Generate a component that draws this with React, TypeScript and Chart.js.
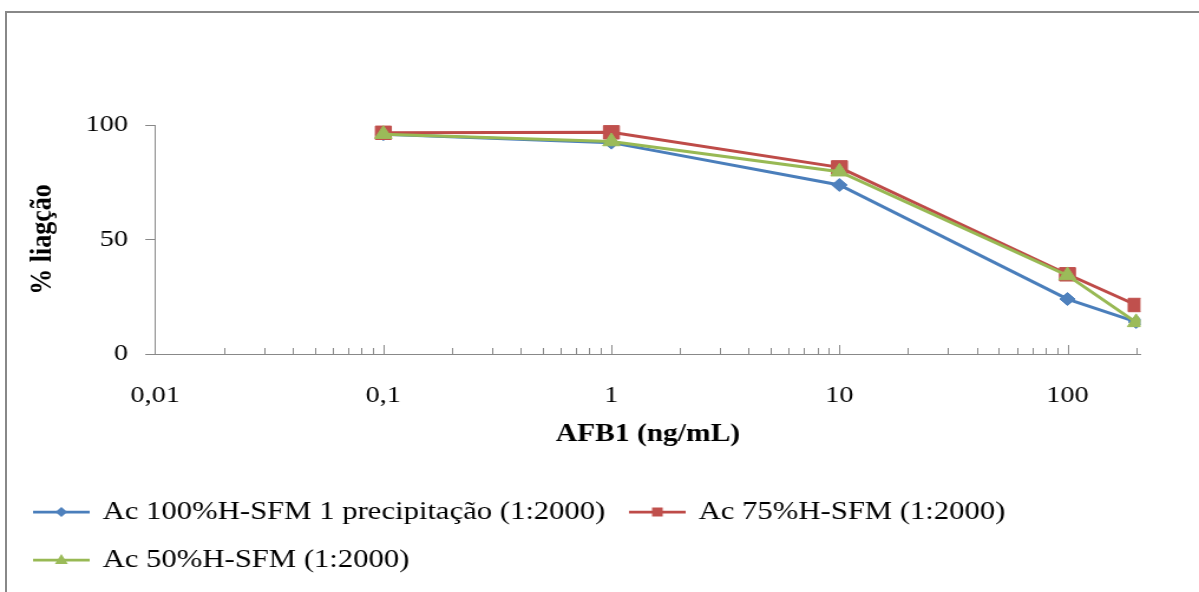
import React, { useEffect, useRef } from 'react';
import { Chart, registerables } from 'chart.js';

Chart.register(...registerables);

// ---- data ----
const concentrations = [0.1, 1, 10, 100, 200];
const seriesBlue = [96, 92.3, 73.8, 24, 14];
const seriesRed = [96.6, 96.8, 81.5, 34.8, 21.4];
const seriesGreen = [96, 92.8, 79.6, 34.3, 13.8];
const seriesLabels = [
  'Ac 100%H-SFM 1 precipitação (1:2000)',
  'Ac 75%H-SFM (1:2000)',
  'Ac 50%H-SFM (1:2000)',
];
const xTickValues = [0.01, 0.1, 1, 10, 100];
const xTickLabels = ['0,01', '0,1', '1', '10', '100'];
const xMin = 0.01;
const xMax = 209;
const yMin = 0;
const yMax = 100;
const yStep = 50;
const xTitle = 'AFB1 (ng/mL)';
const yTitle = '% liagção';

// ---- styling ----
const PAGE_W = 1199;
const PAGE_H = 592;
const CW = 1016;
const FONT = "'Liberation Serif', 'Times New Roman', serif";
const AXIS_COLOR = '#888888';

type Shape = 'diamond' | 'square' | 'triangle';
const seriesStyles: { line: string; marker: string; shape: Shape; pointStyle: string; radius: number; order: number }[] = [
  { line: '#4A7EBB', marker: '#4F81BD', shape: 'diamond', pointStyle: 'rectRot', radius: 6.5, order: 3 },
  { line: '#BE4B48', marker: '#C0504D', shape: 'square', pointStyle: 'rect', radius: 9.5, order: 2 },
  { line: '#98B954', marker: '#9BBB59', shape: 'triangle', pointStyle: 'triangle', radius: 8.5, order: 1 },
];

function makeLegendImage(lineColor: string, markerColor: string, shape: Shape): HTMLCanvasElement {
  const c = document.createElement('canvas');
  c.width = 48;
  c.height = 20;
  const ctx = c.getContext('2d')!;
  ctx.strokeStyle = lineColor;
  ctx.lineWidth = 2.75;
  ctx.beginPath();
  ctx.moveTo(0, 10);
  ctx.lineTo(48, 10);
  ctx.stroke();
  ctx.fillStyle = markerColor;
  ctx.beginPath();
  const cx = 24, cy = 10;
  if (shape === 'diamond') {
    ctx.moveTo(cx - 5, cy);
    ctx.lineTo(cx, cy - 5);
    ctx.lineTo(cx + 5, cy);
    ctx.lineTo(cx, cy + 5);
  } else if (shape === 'square') {
    ctx.rect(cx - 4.5, cy - 4.5, 9, 9);
  } else {
    ctx.moveTo(cx, cy - 6);
    ctx.lineTo(cx + 5.5, cy + 4);
    ctx.lineTo(cx - 5.5, cy + 4);
  }
  ctx.closePath();
  ctx.fill();
  return c;
}

const logTicksPlugin = {
  id: 'logTicks',
  afterDraw(chart: any) {
    const xs = chart.scales.x;
    const { ctx, chartArea } = chart;
    ctx.save();
    ctx.strokeStyle = AXIS_COLOR;
    ctx.lineWidth = 1;
    const minE = Math.round(Math.log10(xMin));
    const maxE = Math.floor(Math.log10(xMax));
    for (let e = minE; e <= maxE; e++) {
      for (let m = 1; m <= 9; m++) {
        const v = m * Math.pow(10, e);
        if (v <= xMin * 1.0001 || v > xMax) continue;
        const px = Math.round(xs.getPixelForValue(v)) + 0.5;
        const len = m === 1 ? 9 : 6;
        ctx.beginPath();
        ctx.moveTo(px, chartArea.bottom);
        ctx.lineTo(px, chartArea.bottom - len);
        ctx.stroke();
      }
    }
    ctx.restore();
  },
};

export default function App() {
  const ref = useRef<HTMLCanvasElement | null>(null);

  useEffect(() => {
    if (!ref.current) return;
    const allSeries = [seriesBlue, seriesRed, seriesGreen];
    const images = seriesStyles.map((s) => makeLegendImage(s.line, s.marker, s.shape));
    const chart = new Chart(ref.current, {
      type: 'line',
      data: {
        datasets: allSeries.map((vals, i) => ({
          label: seriesLabels[i],
          data: concentrations.map((x, j) => ({ x, y: vals[j] })),
          borderColor: seriesStyles[i].line,
          backgroundColor: seriesStyles[i].marker,
          borderWidth: 3,
          tension: 0,
          pointStyle: seriesStyles[i].pointStyle as any,
          pointRadius: seriesStyles[i].radius,
          pointBackgroundColor: seriesStyles[i].marker,
          pointBorderColor: seriesStyles[i].marker,
          pointBorderWidth: 1,
          order: seriesStyles[i].order,
        })),
      },
      options: {
        responsive: false,
        animation: false,
        layout: { padding: { left: 8, right: 49.6, top: 125, bottom: 9 } },
        plugins: {
          tooltip: { enabled: false },
          legend: {
            position: 'bottom',
            align: 'start',
            labels: {
              usePointStyle: true,
              pointStyleWidth: 44,
              padding: 22,
              color: '#000',
              font: { family: FONT, size: 26 },
              generateLabels: () =>
                seriesLabels.map((text, i) => ({
                  text,
                  fillStyle: seriesStyles[i].marker,
                  strokeStyle: seriesStyles[i].line,
                  lineWidth: 0,
                  pointStyle: images[i] as any,
                  hidden: false,
                  datasetIndex: i,
                  fontColor: '#000',
                })),
            },
          },
        },
        scales: {
          x: {
            type: 'logarithmic',
            min: xMin,
            max: xMax,
            bounds: 'data',
            afterBuildTicks: (scale: any) => {
              scale.ticks = xTickValues.map((v) => ({ value: v, major: true }));
            },
            afterFit: (scale: any) => {
              scale.height = 123;
            },
            grid: { display: true, drawOnChartArea: false, drawTicks: false },
            border: { display: true, color: AXIS_COLOR, width: 1 },
            ticks: {
              autoSkip: false,
              maxRotation: 0,
              minRotation: 0,
              padding: 27.6,
              color: '#000',
              font: { family: FONT, size: 24 },
              callback: (_v: any, i: number) => xTickLabels[i],
            },
            title: {
              display: true,
              text: xTitle,
              color: '#000',
              font: { family: FONT, size: 25, weight: 'bold' },
              padding: { top: 4, bottom: 27 },
            },
          },
          y: {
            type: 'linear',
            min: yMin,
            max: yMax,
            afterFit: (scale: any) => {
              scale.width = 123.6;
            },
            grid: { display: true, drawOnChartArea: false, drawTicks: true, tickLength: 8.5, color: AXIS_COLOR },
            border: { display: true, color: AXIS_COLOR, width: 1 },
            ticks: {
              stepSize: yStep,
              padding: 14.6,
              color: '#000',
              font: { family: FONT, size: 24 },
            },
            title: {
              display: true,
              text: yTitle,
              color: '#000',
              font: { family: FONT, size: 26, weight: 'bold' },
              padding: { top: 12.8, bottom: 4 },
            },
          },
        },
      } as any,
      plugins: [logTicksPlugin],
    });
    return () => chart.destroy();
  }, []);

  return (
    <div style={{ position: 'fixed', left: 0, top: 0, width: PAGE_W, height: PAGE_H, overflow: 'hidden', background: '#fff' }}>
      <div
        style={{
          position: 'absolute',
          left: 5,
          top: 11,
          width: PAGE_W - 5,
          height: PAGE_H - 11,
          borderTop: `2px solid ${AXIS_COLOR}`,
          borderLeft: `2px solid ${AXIS_COLOR}`,
          boxSizing: 'border-box',
        }}
      />
      <div
        style={{
          position: 'absolute',
          left: 0,
          top: 0,
          width: CW,
          height: PAGE_H,
          transform: `scaleX(${PAGE_W / CW})`,
          transformOrigin: '0 0',
        }}
      >
        <canvas ref={ref} width={CW} height={PAGE_H} style={{ width: CW, height: PAGE_H, display: 'block' }} />
      </div>
    </div>
  );
}
